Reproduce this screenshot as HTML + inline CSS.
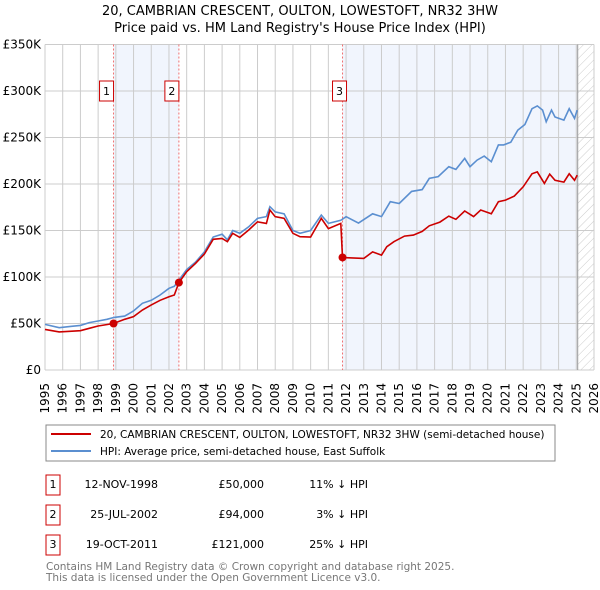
<!DOCTYPE html>
<html><head><meta charset="utf-8"><style>
body{margin:0;background:#fff;width:600px;height:590px;overflow:hidden;font-family:"Liberation Sans","DejaVu Sans",sans-serif}
svg{display:block}
</style></head><body>
<svg id="chart" width="600" height="590" viewBox="0 0 600 590" font-family="DejaVu Sans, Liberation Sans, sans-serif">
<defs><pattern id="hatch" width="6" height="6" patternUnits="userSpaceOnUse" patternTransform="rotate(45)"><line x1="0" y1="0" x2="0" y2="6" stroke="#ccc" stroke-width="1"/></pattern></defs>
<text x="300" y="15" text-anchor="middle" font-size="13" fill="#000">20, CAMBRIAN CRESCENT, OULTON, LOWESTOFT, NR32 3HW</text>
<text x="300" y="32" text-anchor="middle" font-size="13" fill="#000">Price paid vs. HM Land Registry's House Price Index (HPI)</text>
<g id="plot"></g>
<g>
<rect x="46" y="425" width="509" height="36" fill="#fff" stroke="#888"/>
<line x1="51" y1="434" x2="91" y2="434" stroke="#cc0000" stroke-width="2"/>
<text x="100" y="438" font-size="10.5">20, CAMBRIAN CRESCENT, OULTON, LOWESTOFT, NR32 3HW (semi-detached house)</text>
<line x1="51" y1="451" x2="91" y2="451" stroke="#5b8fd0" stroke-width="2"/>
<text x="100" y="455" font-size="10.5">HPI: Average price, semi-detached house, East Suffolk</text>
</g>
<g font-size="11">
<rect x="46" y="475" width="14" height="20" fill="#fff" stroke="#cc0000"/><text x="53" y="488" text-anchor="middle">1</text>
<text x="158" y="488" text-anchor="end">12-NOV-1998</text><text x="264" y="488" text-anchor="end">£50,000</text><text x="368" y="488" text-anchor="end">11% ↓ HPI</text>
<rect x="46" y="505" width="14" height="20" fill="#fff" stroke="#cc0000"/><text x="53" y="518" text-anchor="middle">2</text>
<text x="158" y="518" text-anchor="end">25-JUL-2002</text><text x="264" y="518" text-anchor="end">£94,000</text><text x="368" y="518" text-anchor="end">3% ↓ HPI</text>
<rect x="46" y="535" width="14" height="20" fill="#fff" stroke="#cc0000"/><text x="53" y="548" text-anchor="middle">3</text>
<text x="158" y="548" text-anchor="end">19-OCT-2011</text><text x="264" y="548" text-anchor="end">£121,000</text><text x="368" y="548" text-anchor="end">25% ↓ HPI</text>
</g>
<text x="46" y="570" font-size="10.5" fill="#777">Contains HM Land Registry data © Crown copyright and database right 2025.</text>
<text x="46" y="581" font-size="10.5" fill="#777">This data is licensed under the Open Government Licence v3.0.</text>
</svg>
<script>
const hpiYears=[1995,1995.8,1996.5,1997,1997.5,1998,1998.5,1998.9,1999.5,2000,2000.5,2001,2001.5,2002,2002.3,2002.56,2003,2003.5,2004,2004.5,2005,2005.3,2005.6,2006,2006.5,2007,2007.5,2007.7,2008,2008.5,2009,2009.4,2010,2010.6,2011,2011.7,2012,2012.7,2013.5,2014,2014.5,2015,2015.7,2016.3,2016.7,2017.2,2017.8,2018.2,2018.7,2019,2019.4,2019.8,2020.2,2020.6,2020.9,2021.3,2021.7,2022.1,2022.5,2022.8,2023.1,2023.3,2023.6,2023.8,2024.3,2024.6,2024.9,2025.05];
const hpiValues=[49,45.5,47,48,51,52.7,54.5,56.6,58,63.4,71.7,75,80.6,87.8,90,96.7,108,116,127,143,146,140,150,147,154,163,165,175.6,170,168,150,147,150,166.6,157.6,161,164.8,158,168,165,181,179,192,194,206,208,218.6,215.7,227.5,218.6,225.7,230,224,242,242,245,258,264,281,284,279.5,267,279.5,272,268.7,281,270.5,279.5];
const priceYears=[1995,1995.8,1997,1997.5,1998,1998.87,1999.5,2000,2000.5,2001,2001.5,2002,2002.3,2002.56,2003,2003.5,2004,2004.5,2005,2005.3,2005.6,2006,2006.5,2007,2007.5,2007.7,2008,2008.5,2009,2009.4,2010,2010.6,2011,2011.7,2011.8,2012,2013,2013.5,2014,2014.3,2014.7,2015.3,2015.8,2016.3,2016.7,2017.3,2017.8,2018.2,2018.7,2019.2,2019.6,2020.2,2020.6,2021,2021.5,2022,2022.5,2022.8,2023.2,2023.5,2023.8,2024.3,2024.6,2024.9,2025.05];
const priceValues=[43.7,41,42.3,44.8,47.3,50,54.5,57.3,64.5,70,75,78.8,80.6,94,105.7,114.6,124.7,140.5,141.5,138,147,142.6,150.5,159.4,157.6,172,164.8,163,147,143.3,143,163,152,157.6,121,120.7,120,127,123.6,132.6,138,144,145,149,155,159,165.5,162,171,165,172,168,181,182.7,187,197,211,213,200.6,210.6,204,202,211,204,209.6];
const saleYears=[1998.87,2002.56,2011.8];
const saleValues=[50,94,121];
const saleLabels=["1","2","3"];
const yTicks=[0,50,100,150,200,250,300,350];
const yTickLabels=["£0","£50K","£100K","£150K","£200K","£250K","£300K","£350K"];
const xTicks=[1995,1996,1997,1998,1999,2000,2001,2002,2003,2004,2005,2006,2007,2008,2009,2010,2011,2012,2013,2014,2015,2016,2017,2018,2019,2020,2021,2022,2023,2024,2025,2026];
const dataEnd=2025.08;

const X0=45,X1=594,Y0=370,Y1=44.5;
const xS=y=>X0+(y-1995)/(2026-1995)*(X1-X0);
const yS=v=>Y0-v/350*(Y0-Y1);
const NS="http://www.w3.org/2000/svg";
const g=document.getElementById('plot');
function mk(t,a,p){const e=document.createElementNS(NS,t);for(const k in a)e.setAttribute(k,a[k]);(p||g).appendChild(e);return e;}

let r=mk('rect',{x:xS(saleYears[0]),y:Y1,width:xS(saleYears[1])-xS(saleYears[0]),height:Y0-Y1,fill:'#eef3fc',opacity:0.8});


r=mk('rect',{x:xS(saleYears[2]),y:Y1,width:xS(dataEnd)-xS(saleYears[2]),height:Y0-Y1,fill:'#eef3fc',opacity:0.8});


r=mk('rect',{x:xS(dataEnd),y:Y1,width:X1-xS(dataEnd),height:Y0-Y1,fill:'url(#hatch)'});



yTicks.forEach((v,i)=>{
 const l=mk('line',{x1:X0,x2:X1,y1:yS(v),y2:yS(v),stroke:'#ccc','stroke-width':1});
 
 
 const t=mk('text',{x:X0-4,y:yS(v)+4,'text-anchor':'end','font-size':12});
 
 
 t.textContent=yTickLabels[i];
});
xTicks.forEach(yr=>{
 const l=mk('line',{x1:xS(yr),x2:xS(yr),y1:Y1,y2:Y0,stroke:'#ccc','stroke-width':1});
 
 
 const t=mk('text',{transform:`translate(${xS(yr)+4},${Y0+13}) rotate(-90)`,'text-anchor':'end','font-size':12});
 
 
 t.textContent=yr;
});
let l=mk('line',{x1:xS(dataEnd),x2:xS(dataEnd),y1:Y1,y2:Y0,stroke:'#999','stroke-width':1});



saleYears.forEach((yr,i)=>{
 const d=mk('line',{x1:xS(yr),x2:xS(yr),y1:Y1,y2:Y0,stroke:'#f07070','stroke-width':1,'stroke-dasharray':'2,2'});
 
 
});

const pts=(xs,vs)=>xs.map((x,i)=>xS(x).toFixed(1)+','+yS(vs[i]).toFixed(1)).join(' ');
const hp=mk('polyline',{points:pts(hpiYears,hpiValues),fill:'none',stroke:'#5b8fd0','stroke-width':1.6});


const pp=mk('polyline',{points:pts(priceYears,priceValues),fill:'none',stroke:'#cc0000','stroke-width':1.6});



saleYears.forEach((yr,i)=>{
 const c=mk('circle',{cx:xS(yr),cy:yS(saleValues[i]),r:4,fill:'#cc0000'});
 
 
 const bx=xS(yr)-(i==2?10:14);
 const b=mk('rect',{x:bx,y:yS(300)-10,width:14,height:20,fill:'#fff',stroke:'#cc0000'});
 
 
 const t=mk('text',{x:bx+7,y:yS(300)+4,'text-anchor':'middle','font-size':11});
 
 
 t.textContent=saleLabels[i];
});
</script>
</body></html>
